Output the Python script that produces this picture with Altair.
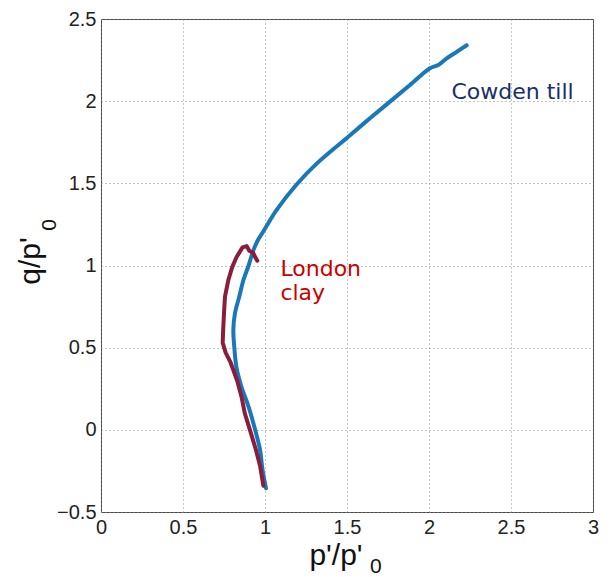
import altair as alt
import pandas as pd

# Cowden till (blue) path, p'/p'0 and q/p'0
cowden_p = [1.006, 0.985, 0.97, 0.94, 0.90, 0.857, 0.826, 0.813, 0.807, 0.817, 0.843, 0.868, 0.90,
            0.93, 0.957, 0.995, 1.07, 1.19, 1.315, 1.508, 1.64, 1.762, 1.884, 2.006, 2.057, 2.108, 2.169, 2.23]
cowden_q = [-0.355, -0.245, -0.123, 0.0, 0.14, 0.26, 0.38, 0.5, 0.61, 0.71, 0.81, 0.91, 1.0,
            1.095, 1.155, 1.216, 1.337, 1.49, 1.62, 1.784, 1.896, 1.997, 2.098, 2.2, 2.22, 2.26, 2.30, 2.34]

# London clay (red) path
london_p = [0.99, 0.97, 0.945, 0.908, 0.877, 0.857, 0.83, 0.79, 0.76, 0.742, 0.745, 0.75, 0.756,
            0.776, 0.80, 0.826, 0.863, 0.888, 0.904, 0.928, 0.939, 0.953]
london_q = [-0.34, -0.22, -0.123, 0.0, 0.10, 0.20, 0.30, 0.41, 0.47, 0.53, 0.61, 0.71, 0.81,
            0.91, 0.99, 1.05, 1.11, 1.118, 1.09, 1.078, 1.053, 1.029]

# annotations
label_text = ["Cowden till", "London", "clay"]
label_p = [2.137, 1.094, 1.094]
label_q = [2.013, 0.936, 0.790]
label_color = ["#1b2f6b", "#cc0000", "#cc0000"]

x_ticks = [0, 0.5, 1, 1.5, 2, 2.5, 3]
y_ticks = [-0.5, 0, 0.5, 1, 1.5, 2, 2.5]

cow = pd.DataFrame({"p": cowden_p, "q": cowden_q, "i": range(len(cowden_p))})
lon = pd.DataFrame({"p": london_p, "q": london_q, "i": range(len(london_p))})
lab = pd.DataFrame({"p": label_p, "q": label_q, "t": label_text, "c": label_color})
one = pd.DataFrame({"k": [0]})

xs = alt.Scale(domain=[0, 3], nice=False, zero=False)
ys = alt.Scale(domain=[-0.5, 2.5], nice=False, zero=False)

axis_common = dict(
    grid=True, gridColor="#8a8a8a", gridDash=[1, 3], gridWidth=1,
    ticks=False, domain=False, labelFont="Liberation Sans", labelFontSize=20,
    labelColor="#222222", labelFlush=False, format="~g", labelPadding=5, title="",
)

X = alt.X("p:Q", scale=xs, axis=alt.Axis(values=x_ticks, **axis_common))
Y = alt.Y("q:Q", scale=ys, axis=alt.Axis(values=y_ticks, **axis_common))

blue = alt.Chart(cow).mark_line(color="#1a78b8", strokeWidth=4, strokeCap="round", strokeJoin="round",
                                interpolate="catmull-rom").encode(x=X, y=Y, order="i:Q")
red = alt.Chart(lon).mark_line(color="#8c1c3c", strokeWidth=4, strokeCap="round", strokeJoin="round").encode(
    x=alt.X("p:Q", scale=xs), y=alt.Y("q:Q", scale=ys), order="i:Q")

labels = alt.Chart(lab).mark_text(font="DejaVu Sans", fontSize=22, align="left", baseline="alphabetic").encode(
    x=alt.X("p:Q", scale=xs), y=alt.Y("q:Q", scale=ys), text="t:N",
    color=alt.Color("c:N", scale=None))

tfont = "Liberation Sans"
xt = alt.Chart(one).mark_text(text="p'/p'", font=tfont, fontSize=30, align="center", baseline="alphabetic",
                              color="#111111").encode(x=alt.value(235), y=alt.value(546))
xt0 = alt.Chart(one).mark_text(text="0", font=tfont, fontSize=21, align="left", baseline="alphabetic",
                               color="#111111").encode(x=alt.value(269), y=alt.value(554))
yt = alt.Chart(one).mark_text(text="q/p'", font=tfont, fontSize=30, align="center", baseline="alphabetic",
                              angle=270, color="#111111").encode(x=alt.value(-61), y=alt.value(242))
yt0 = alt.Chart(one).mark_text(text="0", font=tfont, fontSize=21, align="center", baseline="alphabetic",
                               angle=270, color="#111111").encode(x=alt.value(-45), y=alt.value(206))

chart = alt.layer(blue, red, labels, xt, xt0, yt, yt0).properties(
    width=492, height=493,
    padding={"left": 101, "top": 19, "right": 18, "bottom": 65},
    autosize=alt.AutoSizeParams(type="none"),
    background="white",
).configure_view(stroke="#444444", strokeWidth=1)

chart.save("out.html", embed_options={"renderer": "svg", "actions": False})
